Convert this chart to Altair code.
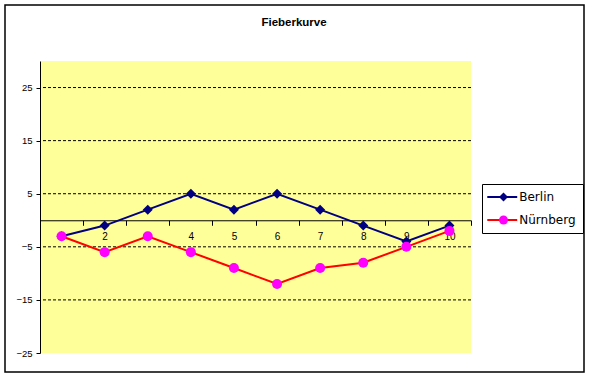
import altair as alt
import pandas as pd

days = [1, 2, 3, 4, 5, 6, 7, 8, 9, 10]
berlin = [-3, -1, 2, 5, 2, 5, 2, -1, -4, -1]
nuernberg = [-3, -6, -3, -6, -9, -12, -9, -8, -5, -2]
series_names = ["Berlin", "Nürnberg"]
marker_keys = ["Berlin-Marker", "Nürnberg-Marker"]
line_colors = ["#000080", "#FF0000"]
marker_colors = ["#000080", "#FF00FF"]
marker_shapes = ["diamond", "circle"]
y_ticks = [-25, -15, -5, 5, 15, 25]
grid_values = [25, 15, 5, -5, -15]

rows = []
for d, b, n in zip(days, berlin, nuernberg):
    rows.append({"Tag": d, "Wert": b, "Stadt": series_names[0], "Marker": marker_keys[0]})
    rows.append({"Tag": d, "Wert": n, "Stadt": series_names[1], "Marker": marker_keys[1]})
df = pd.DataFrame(rows)

W, H = 431, 292
YMIN, YMAX = -25, 30
zero_offset = -(H * (0 - YMIN) / (YMAX - YMIN))

x_enc = alt.X(
    "Tag:O",
    scale=alt.Scale(type="band", paddingInner=0, paddingOuter=0),
    sort=days,
    axis=alt.Axis(
        title=None, labelAngle=0, offset=zero_offset, tickBand="extent",
        tickSize=5, tickColor="black", domainColor="black", labelPadding=6,
        labelFont="Liberation Sans", labelFontSize=10, labelColor="black",
    ),
)
y_scale = alt.Scale(domain=[YMIN, YMAX], nice=False, zero=False)
y_enc = alt.Y(
    "Wert:Q", scale=y_scale,
    axis=alt.Axis(
        title=None, values=y_ticks, grid=False, tickSize=4, tickColor="black",
        domainColor="black", labelPadding=4, labelFont="Liberation Sans",
        labelFontSize=9.5, labelColor="black",
    ),
)

grid = alt.Chart(pd.DataFrame({"g": grid_values})).mark_rule(
    color="black", strokeWidth=1, strokeDash=[3, 2]
).encode(y=alt.Y("g:Q", scale=y_scale))

frame = alt.Chart(pd.DataFrame({"a": [0]})).mark_rect(
    fill=None, stroke="black", strokeWidth=1.5
).encode(
    x=alt.value(-35), x2=alt.value(544), y=alt.value(-56), y2=alt.value(311)
)

lines = alt.Chart(df).mark_line(strokeWidth=2).encode(
    x=x_enc, y=y_enc,
    stroke=alt.Stroke(
        "Stadt:N",
        scale=alt.Scale(domain=series_names, range=line_colors),
        legend=alt.Legend(
            orient="none", legendX=442, legendY=123, title=None,
            symbolType="M-4,0H4", symbolSize=56, symbolStrokeWidth=2,
            symbolOffset=7.25, labelOffset=11, padding=7, rowPadding=11,
            strokeColor="black", fillColor="white",
            labelFont="DejaVu Sans", labelFontSize=12, labelColor="black",
        ),
    ),
    order=alt.Order("Tag:O"),
)

pt_legend = alt.Legend(
    orient="none", legendX=450.5, legendY=123, title=None,
    symbolSize=80, padding=7, rowPadding=11, labelOpacity=0,
    labelExpr="''", labelFont="DejaVu Sans", labelFontSize=12,
    symbolStrokeWidth=0,
)
points = alt.Chart(df).mark_point(filled=True, size=100, opacity=1).encode(
    x=x_enc, y=y_enc,
    fill=alt.Fill(
        "Marker:N",
        scale=alt.Scale(domain=marker_keys, range=marker_colors),
        legend=pt_legend,
    ),
    shape=alt.Shape(
        "Marker:N",
        scale=alt.Scale(domain=marker_keys, range=marker_shapes),
        legend=pt_legend,
    ),
)

chart = alt.layer(frame, grid, lines, points).properties(
    width=W, height=H,
    background="white",
    title=alt.TitleParams(
        "Fieberkurve", font="Liberation Sans", fontSize=11.5, fontWeight="bold",
        color="black", anchor="middle", frame="group", dx=38.5,
        baseline="alphabetic", offset=-33.5,
    ),
    autosize=alt.AutoSizeParams(type="none"),
    padding={"left": 40, "top": 61, "right": 118, "bottom": 25},
).configure_view(fill="#FFFF99", stroke=None)

chart.save("out.html", embed_options={"renderer": "svg", "actions": False})
